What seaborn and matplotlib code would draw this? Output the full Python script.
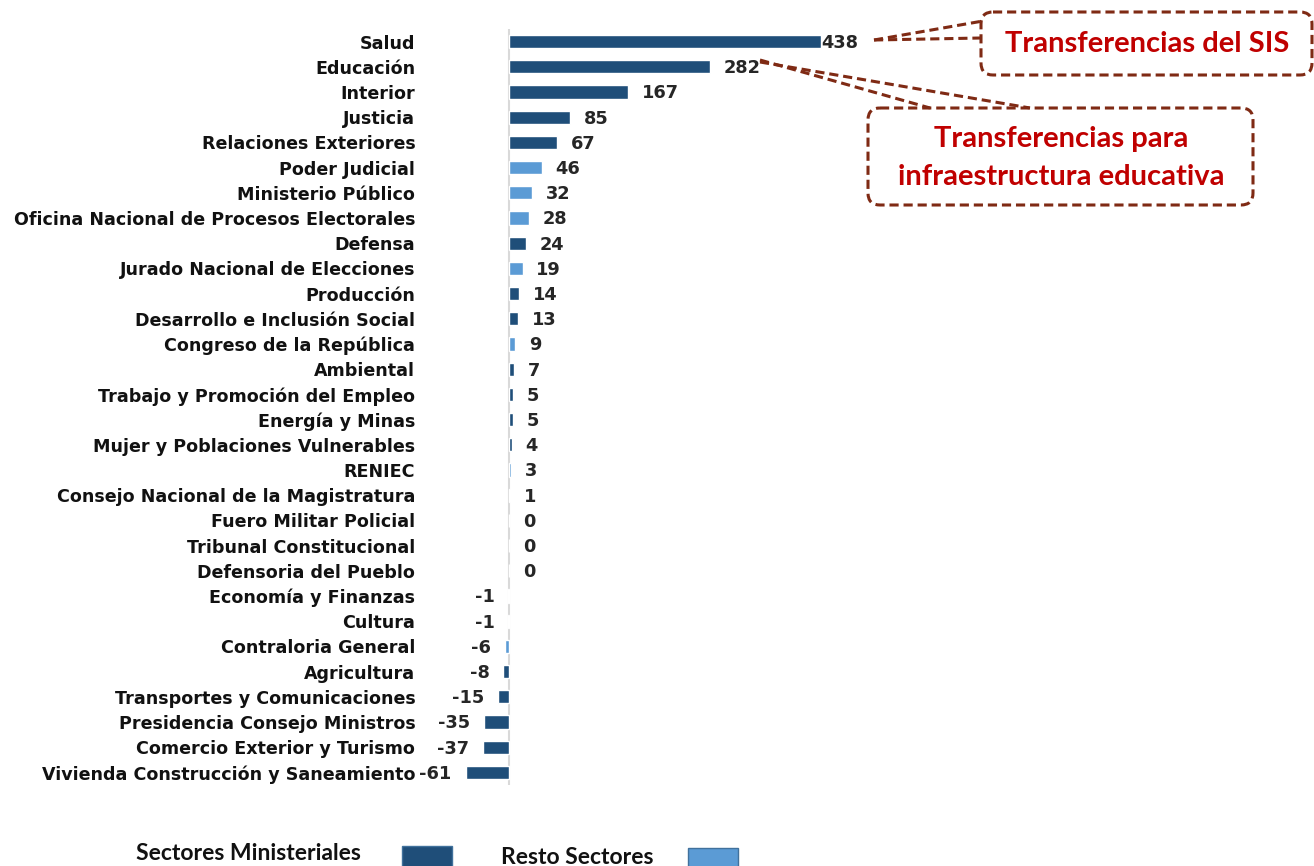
import pandas as pd
import matplotlib.pyplot as plt
import seaborn as sns
from matplotlib.patches import FancyBboxPatch

# Data
sectores = [
    "Salud", "Educación", "Interior", "Justicia", "Relaciones Exteriores",
    "Poder Judicial", "Ministerio Público", "Oficina Nacional de Procesos Electorales",
    "Defensa", "Jurado Nacional de Elecciones", "Producción",
    "Desarrollo e Inclusión Social", "Congreso de la República", "Ambiental",
    "Trabajo y Promoción del Empleo", "Energía y Minas", "Mujer y Poblaciones Vulnerables",
    "RENIEC", "Consejo Nacional de la Magistratura", "Fuero Militar Policial",
    "Tribunal Constitucional", "Defensoria del Pueblo", "Economía y Finanzas",
    "Cultura", "Contraloria General", "Agricultura", "Transportes y Comunicaciones",
    "Presidencia Consejo Ministros", "Comercio Exterior y Turismo",
    "Vivienda Construcción y Saneamiento",
]
valores = [438, 282, 167, 85, 67, 46, 32, 28, 24, 19, 14, 13, 9, 7, 5, 5, 4, 3, 1,
           0, 0, 0, -1, -1, -6, -8, -15, -35, -37, -61]
grupo_codigo = ["M", "M", "M", "M", "M", "R", "R", "R", "M", "R", "M", "M", "R", "M",
                "M", "M", "M", "R", "R", "M", "R", "R", "M", "M", "R", "M", "M", "M",
                "M", "M"]
grupos = {"M": "Sectores Ministeriales", "R": "Resto Sectores"}
colores = {"Sectores Ministeriales": "#1F4E79", "Resto Sectores": "#5B9BD5"}

data = pd.DataFrame({
    "Sector": sectores,
    "Valor": valores,
    "Grupo": [grupos[g] for g in grupo_codigo],
})

sns.set_style("white")
plt.rcParams["font.family"] = ["DejaVu Sans"]

fig = plt.figure(figsize=(13.14, 8.66), dpi=100)
W, H = 1314, 866
ax = fig.add_axes([425 / W, 1 - 785 / H, (860 - 425) / W, (785 - 29) / H])

sns.barplot(data=data, x="Valor", y="Sector", hue="Grupo",
            hue_order=["Sectores Ministeriales", "Resto Sectores"],
            palette=colores, dodge=False, width=0.52, orient="h", ax=ax,
            saturation=1, legend=False)

ax.set_xlim(-118, 493)
for s in ax.spines.values():
    s.set_visible(False)
ax.axvline(0, color="#D9D9D9", lw=1.5, zorder=0)
ax.set_xticks([])
ax.set_xlabel("")
ax.set_ylabel("")
ax.tick_params(axis="y", length=0, pad=7)
for lbl in ax.get_yticklabels():
    lbl.set_fontweight("bold")
    lbl.set_fontsize(12.6)
    lbl.set_color("#111111")

# value labels
for i, v in enumerate(valores):
    if v < 0:
        ax.annotate(str(v), (v, i), xytext=(-10, -1), textcoords="offset points",
                    ha="right", va="center", fontsize=12.8, fontweight="bold")
    else:
        off = 0 if v == max(valores) else 10
        ax.annotate(str(v), (v, i), xytext=(off, -1), textcoords="offset points",
                    ha="left", va="center", fontsize=12.8, fontweight="bold")

# overlay in pixel coordinates for callouts and legend
ov = fig.add_axes([0, 0, 1, 1], zorder=5)
ov.set_xlim(0, W)
ov.set_ylim(H, 0)
ov.axis("off")
ov.patch.set_alpha(0)

brown = "#7F2A14"
red = "#C00000"
box_kw = dict(boxstyle="round,pad=0,rounding_size=12", fill=False, ec=brown,
              lw=2.2, ls=(0, (3, 1.6)))
ov.add_patch(FancyBboxPatch((981, 12), 331, 63, **box_kw))
ov.add_patch(FancyBboxPatch((868, 108), 385, 97, **box_kw))
line_kw = dict(color=brown, lw=2.2, ls=(0, (3, 1.6)))
ov.plot([874, 983], [40, 21], **line_kw)
ov.plot([874, 981], [40, 38], **line_kw)
ov.plot([760, 930], [60, 108], **line_kw)
ov.plot([760, 1030], [62, 108], **line_kw)

ov.text(1147, 44, "Transferencias del SIS", ha="center", va="center",
        fontsize=21, fontweight="bold", color=red, family="Lato")
ov.text(1061, 139, "Transferencias para", ha="center", va="center",
        fontsize=21, fontweight="bold", color=red, family="Lato")
ov.text(1061, 177, "infraestructura educativa", ha="center", va="center",
        fontsize=21, fontweight="bold", color=red, family="Lato")

# legend
ov.text(248, 854, "Sectores Ministeriales", ha="center", va="center",
        fontsize=16.5, fontweight="bold", color="#111111", family="Lato")
ov.add_patch(plt.Rectangle((402, 846), 50, 24, fc=colores["Sectores Ministeriales"],
                           ec="#41719C", lw=1))
ov.text(577, 857, "Resto Sectores", ha="center", va="center",
        fontsize=16.5, fontweight="bold", color="#111111", family="Lato")
ov.add_patch(plt.Rectangle((688, 848), 50, 24, fc=colores["Resto Sectores"],
                           ec="#41719C", lw=1))

fig.savefig("out.png", dpi=100)
